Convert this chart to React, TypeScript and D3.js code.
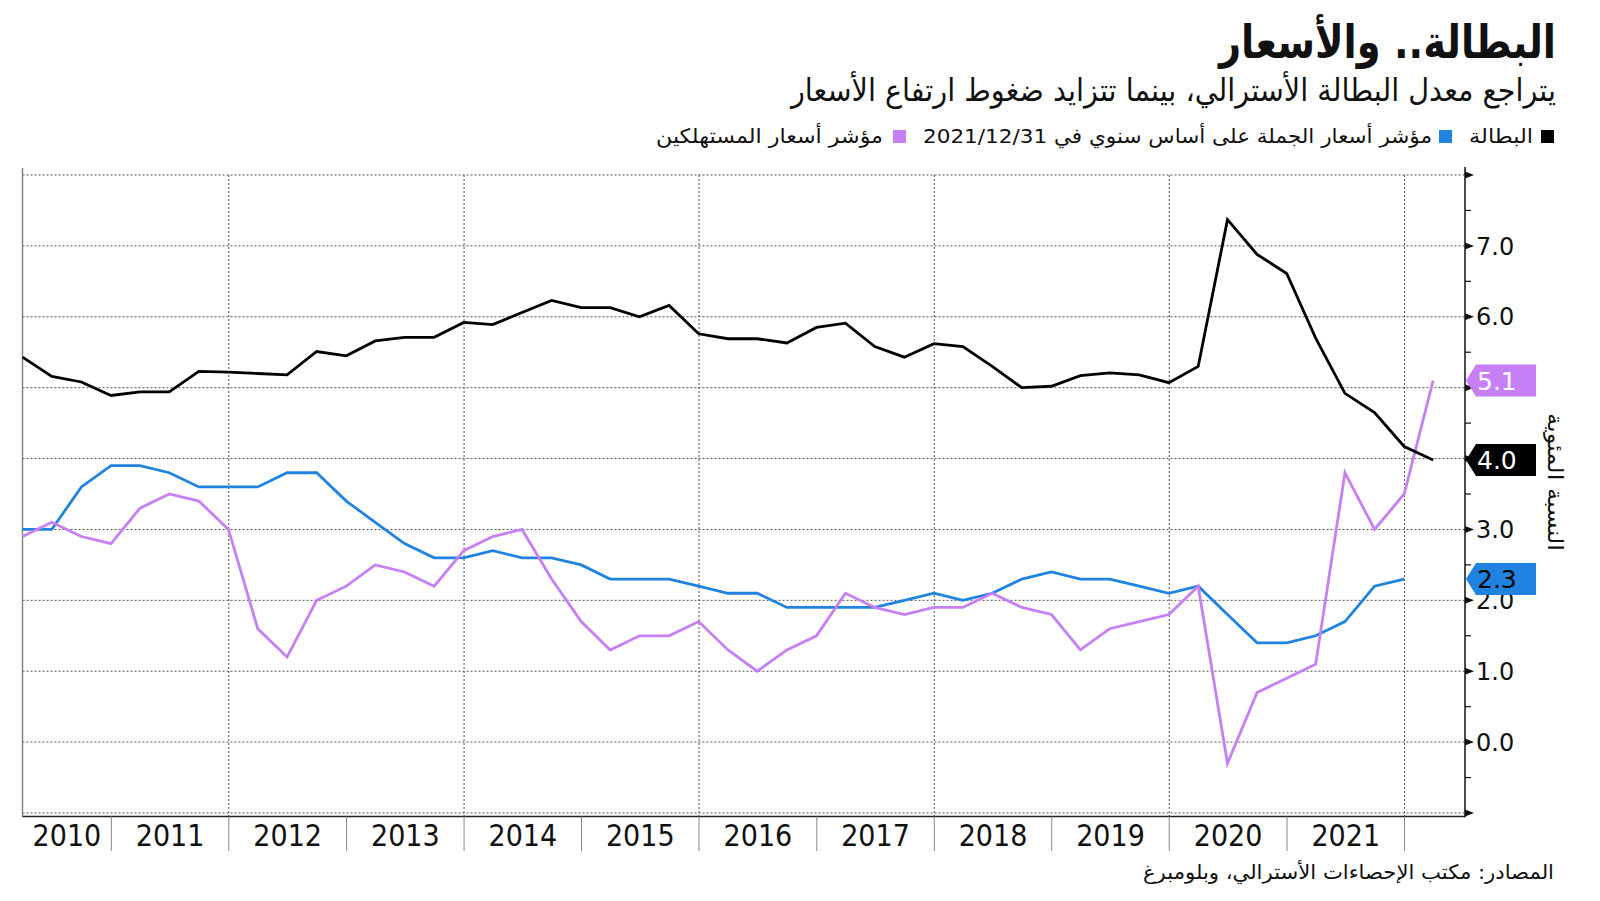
import React from "react";
import * as d3 from "d3";

// ---------- DATA ----------
const START_YEAR = 2010;
const QUARTER_COUNT = 49; // 2010Q1 .. 2022Q1 (quarter-end dates)

const unemployment = [
  5.43, 5.16, 5.08, 4.89,
  4.94, 4.94, 5.23, 5.22,
  5.20, 5.18, 5.51, 5.45,
  5.66, 5.71, 5.71, 5.92,
  5.89, 6.06, 6.23, 6.13,
  6.13, 6.00, 6.16, 5.76,
  5.69, 5.69, 5.63, 5.85,
  5.91, 5.58, 5.43, 5.62,
  5.58, 5.30, 5.00, 5.02,
  5.17, 5.21, 5.18, 5.07,
  5.30, 7.37, 6.88, 6.61,
  5.70, 4.92, 4.65, 4.17,
  3.98,
];

const wholesale = [
  3.0, 3.0, 3.6, 3.9,
  3.9, 3.8, 3.6, 3.6,
  3.6, 3.8, 3.8, 3.4,
  3.1, 2.8, 2.6, 2.6,
  2.7, 2.6, 2.6, 2.5,
  2.3, 2.3, 2.3, 2.2,
  2.1, 2.1, 1.9, 1.9,
  1.9, 1.9, 2.0, 2.1,
  2.0, 2.1, 2.3, 2.4,
  2.3, 2.3, 2.2, 2.1,
  2.2, 1.8, 1.4, 1.4,
  1.5, 1.7, 2.2, 2.3,
];

const cpi = [
  2.9, 3.1, 2.9, 2.8,
  3.3, 3.5, 3.4, 3.0,
  1.6, 1.2, 2.0, 2.2,
  2.5, 2.4, 2.2, 2.7,
  2.9, 3.0, 2.3, 1.7,
  1.3, 1.5, 1.5, 1.7,
  1.3, 1.0, 1.3, 1.5,
  2.1, 1.9, 1.8, 1.9,
  1.9, 2.1, 1.9, 1.8,
  1.3, 1.6, 1.7, 1.8,
  2.2, -0.3, 0.7, 0.9,
  1.1, 3.8, 3.0, 3.5,
  5.1,
];

const yearLabels = [2010, 2011, 2012, 2013, 2014, 2015, 2016, 2017, 2018, 2019, 2020, 2021];
const gridYears = [2012, 2014, 2016, 2018, 2020, 2022];
const separatorYears = [2011, 2012, 2013, 2014, 2015, 2016, 2017, 2018, 2019, 2020, 2021, 2022];
const yMajorTicks = [-1, 0, 1, 2, 3, 4, 5, 6, 7, 8];
const yLabelTicks = [0, 1, 2, 3, 4, 5, 6, 7];
const yMinorTicks = [-0.5, 0.5, 1.5, 2.5, 3.5, 4.5, 5.5, 6.5, 7.5];

const TITLE = "البطالة.. والأسعار";
const SUBTITLE = "يتراجع معدل البطالة الأسترالي، بينما تتزايد ضغوط ارتفاع الأسعار";
const LEGEND_UNEMP = "البطالة";
const LEGEND_WHOLESALE = "مؤشر أسعار الجملة على أساس سنوي في 2021/12/31";
const LEGEND_CPI = "مؤشر أسعار المستهلكين";
const SOURCE = "المصادر: مكتب الإحصاءات الأسترالي، وبلومبرغ";
const Y_TITLE = "النسبة المئوية";

const COLORS = { unemp: "#000000", wholesale: "#2183e0", cpi: "#c77ff5" };

// ---------- LAYOUT ----------
const W = 1600;
const H = 901;
const PLOT_LEFT = 22.5;
const PLOT_RIGHT = 1465;
const PLOT_TOP = 175;
const PLOT_BOTTOM = 813;
const AXIS_Y = 816.5;

const quarterEnds = d3.range(QUARTER_COUNT).map((i) => new Date(START_YEAR, 3 + 3 * i, 0));

const x = d3
  .scaleTime()
  .domain([new Date(2010, 2, 31), new Date(2022, 6, 8)])
  .range([PLOT_LEFT, PLOT_RIGHT]);
const y = d3.scaleLinear().domain([-1, 8]).range([PLOT_BOTTOM, PLOT_TOP]);

type Pt = { date: Date; v: number };
const toPts = (vals: number[]): Pt[] => vals.map((v, i) => ({ date: quarterEnds[i], v }));

const series = [
  { key: "wholesale", pts: toPts(wholesale), color: COLORS.wholesale, tagText: "#000" },
  { key: "cpi", pts: toPts(cpi), color: COLORS.cpi, tagText: "#fff" },
  { key: "unemp", pts: toPts(unemployment), color: COLORS.unemp, tagText: "#fff" },
];

const line = d3
  .line<Pt>()
  .x((d) => x(d.date))
  .y((d) => y(d.v));

const AR_FONT = "'DejaVu Sans Condensed', 'DejaVu Sans', sans-serif";
const NUM_FONT = "'DejaVu Sans', sans-serif";
const YEAR_FONT = "'Liberation Sans Narrow', 'DejaVu Sans Condensed', 'Roboto', sans-serif";

function RtlText(props: {
  x: number;
  y: number;
  size: number;
  len: number;
  weight?: string | number;
  children: string;
}) {
  return (
    <text
      x={props.x}
      y={props.y}
      fontSize={props.size}
      fontFamily={AR_FONT}
      fontWeight={props.weight ?? "normal"}
      direction="rtl"
      textAnchor="start"
      textLength={props.len}
      lengthAdjust="spacingAndGlyphs"
      fill="#111"
    >
      {props.children}
    </text>
  );
}

export default function App() {
  const tagX = 1466;
  const tagRight = 1536;
  const tagHalf = 16;

  return (
    <svg
      width={W}
      height={H}
      viewBox={`0 0 ${W} ${H}`}
      style={{ position: "absolute", left: 0, top: 0, background: "#fff" }}
    >
      <rect x={0} y={0} width={W} height={H} fill="#fff" />

      {/* Title, subtitle */}
      <RtlText x={1556} y={58} size={46} len={337} weight="bold">
        {TITLE}
      </RtlText>
      <RtlText x={1556} y={101} size={31} len={765}>
        {SUBTITLE}
      </RtlText>

      {/* Legend */}
      <rect x={1541} y={130} width={13} height={13} fill={COLORS.unemp} />
      <RtlText x={1533} y={143} size={20} len={64}>
        {LEGEND_UNEMP}
      </RtlText>
      <rect x={1439} y={130} width={13} height={13} fill={COLORS.wholesale} />
      <RtlText x={1432} y={143} size={20} len={509}>
        {LEGEND_WHOLESALE}
      </RtlText>
      <rect x={893} y={130} width={13} height={13} fill={COLORS.cpi} />
      <RtlText x={883} y={143} size={20} len={227}>
        {LEGEND_CPI}
      </RtlText>

      {/* Horizontal gridlines */}
      {yMajorTicks.map((t) => (
        <line
          key={"hg" + t}
          x1={PLOT_LEFT}
          x2={PLOT_RIGHT}
          y1={y(t)}
          y2={y(t)}
          stroke="#555"
          strokeWidth={1}
          strokeDasharray="2 2"
        />
      ))}
      {/* Vertical gridlines */}
      {gridYears.map((yr) => {
        const gx = x(new Date(yr, 0, 1));
        return (
          <line
            key={"vg" + yr}
            x1={gx}
            x2={gx}
            y1={PLOT_TOP}
            y2={AXIS_Y}
            stroke="#555"
            strokeWidth={1}
            strokeDasharray="2 2"
          />
        );
      })}

      {/* Left frame line */}
      <line x1={PLOT_LEFT} x2={PLOT_LEFT} y1={168} y2={AXIS_Y} stroke="#888" strokeWidth={1.5} />

      {/* Bottom axis */}
      <line x1={PLOT_LEFT} x2={PLOT_RIGHT} y1={AXIS_Y} y2={AXIS_Y} stroke="#222" strokeWidth={1.5} />
      {separatorYears.map((yr) => {
        const sx = x(new Date(yr, 0, 1));
        return <line key={"sep" + yr} x1={sx} x2={sx} y1={AXIS_Y} y2={851} stroke="#888" strokeWidth={1} />;
      })}
      {yearLabels.map((yr) => {
        const a = Math.max(x(new Date(yr, 0, 1)), PLOT_LEFT);
        const b = x(new Date(yr + 1, 0, 1));
        return (
          <text
            key={"yl" + yr}
            x={(a + b) / 2}
            y={846}
            textAnchor="middle"
            fontSize={30}
            fontFamily={YEAR_FONT}
            fill="#111"
          >
            {yr}
          </text>
        );
      })}

      {/* Right axis */}
      <line x1={PLOT_RIGHT} x2={PLOT_RIGHT} y1={167} y2={AXIS_Y + 0.75} stroke="#111" strokeWidth={1.5} />
      {yMinorTicks.map((t) => (
        <line key={"mt" + t} x1={PLOT_RIGHT} x2={PLOT_RIGHT + 6} y1={y(t)} y2={y(t)} stroke="#111" strokeWidth={1.2} />
      ))}
      {yMajorTicks.map((t) => (
        <path
          key={"tri" + t}
          d={`M${PLOT_RIGHT},${y(t) - 3.5} L${PLOT_RIGHT + 9},${y(t)} L${PLOT_RIGHT},${y(t) + 3.5} Z`}
          fill="#111"
        />
      ))}
      {yLabelTicks.map((t) => (
        <text
          key={"yt" + t}
          x={PLOT_RIGHT + 11}
          y={y(t)}
          dy="0.36em"
          fontSize={24}
          fontFamily={NUM_FONT}
          fill="#111"
        >
          {t.toFixed(1)}
        </text>
      ))}

      {/* Y axis title */}
      <text
        transform={`translate(1555,482) rotate(90)`}
        fontSize={21}
        fontFamily={AR_FONT}
        textAnchor="middle"
        dy="0.35em"
        direction="rtl"
        textLength={138}
        lengthAdjust="spacingAndGlyphs"
        fill="#111"
      >
        {Y_TITLE}
      </text>

      {/* Lines */}
      {series.map((s) => (
        <path
          key={s.key}
          d={line(s.pts) || ""}
          fill="none"
          stroke={s.color}
          strokeWidth={2.8}
          strokeLinejoin="miter"
        />
      ))}

      {/* End tags */}
      {series.map((s) => {
        const last = s.pts[s.pts.length - 1];
        const cy = y(last.v);
        return (
          <g key={"tag" + s.key}>
            <path
              d={`M${tagX},${cy} L${tagX + 10},${cy - tagHalf} L${tagRight},${cy - tagHalf} L${tagRight},${cy + tagHalf} L${tagX + 10},${cy + tagHalf} Z`}
              fill={s.color}
            />
            <text
              x={tagX + 11}
              y={cy}
              dy="0.36em"
              fontSize={25}
              fontFamily={NUM_FONT}
              fill={s.tagText}
            >
              {last.v.toFixed(1)}
            </text>
          </g>
        );
      })}

      {/* Source */}
      <RtlText x={1554} y={879} size={20} len={411}>
        {SOURCE}
      </RtlText>
    </svg>
  );
}
